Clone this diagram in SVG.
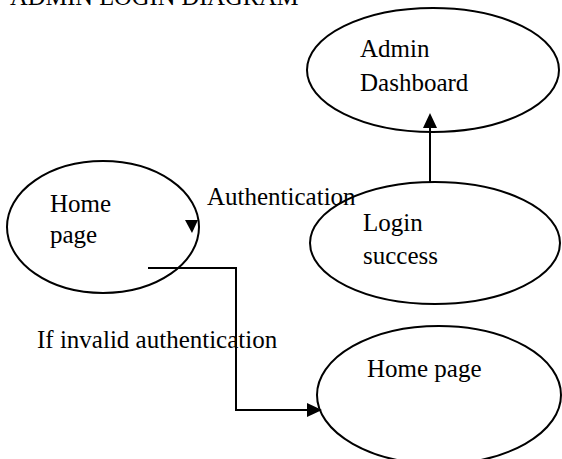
<svg xmlns="http://www.w3.org/2000/svg" width="562" height="459" viewBox="0 0 562 459">
  <style>
    .node ellipse { fill: #ffffff; stroke: #000000; stroke-width: 2; }
    text { font-family: "Liberation Serif", "Times New Roman", serif; font-size: 25px; fill: #000000; }
    .edge { fill: none; stroke: #000000; stroke-width: 2; }
    .head { fill: #000000; stroke: none; }
  </style>
  <rect width="562" height="459" fill="#ffffff"/>

  <text id="title" x="10" y="5" style="font-size:24.5px">ADMIN LOGIN DIAGRAM</text>

  <g id="admin-dashboard" class="node">
    <ellipse cx="433" cy="70" rx="126" ry="62"/>
    <text x="360" y="57">Admin</text>
    <text x="360" y="91">Dashboard</text>
  </g>

  <g id="home-page" class="node">
    <ellipse cx="103" cy="227" rx="96" ry="66"/>
    <text x="50" y="212">Home</text>
    <text x="50" y="243">page</text>
  </g>

  <g id="login-success" class="node">
    <ellipse cx="435" cy="243" rx="125" ry="61"/>
    <text x="363" y="231">Login</text>
    <text x="363" y="264">success</text>
  </g>

  <g id="home-page-2" class="node">
    <ellipse cx="439" cy="395" rx="122" ry="69"/>
    <text x="367" y="377">Home page</text>
  </g>

  <g id="connectors">
    <!-- login success up to dashboard -->
    <line class="edge" x1="430" y1="182" x2="430" y2="126"/>
    <polygon class="head" points="430,113 423,128 437,128"/>
    <!-- authentication arrowhead -->
    <polygon class="head" points="185,220 198,220 192,233"/>
    <!-- invalid authentication path -->
    <polyline class="edge" points="148,268 236,268 236,410 309,410"/>
    <polygon class="head" points="322,410 307,403 307,417"/>
    <text x="207" y="205">Authentication</text>
    <text x="37" y="348">If invalid authentication</text>
  </g>
</svg>
